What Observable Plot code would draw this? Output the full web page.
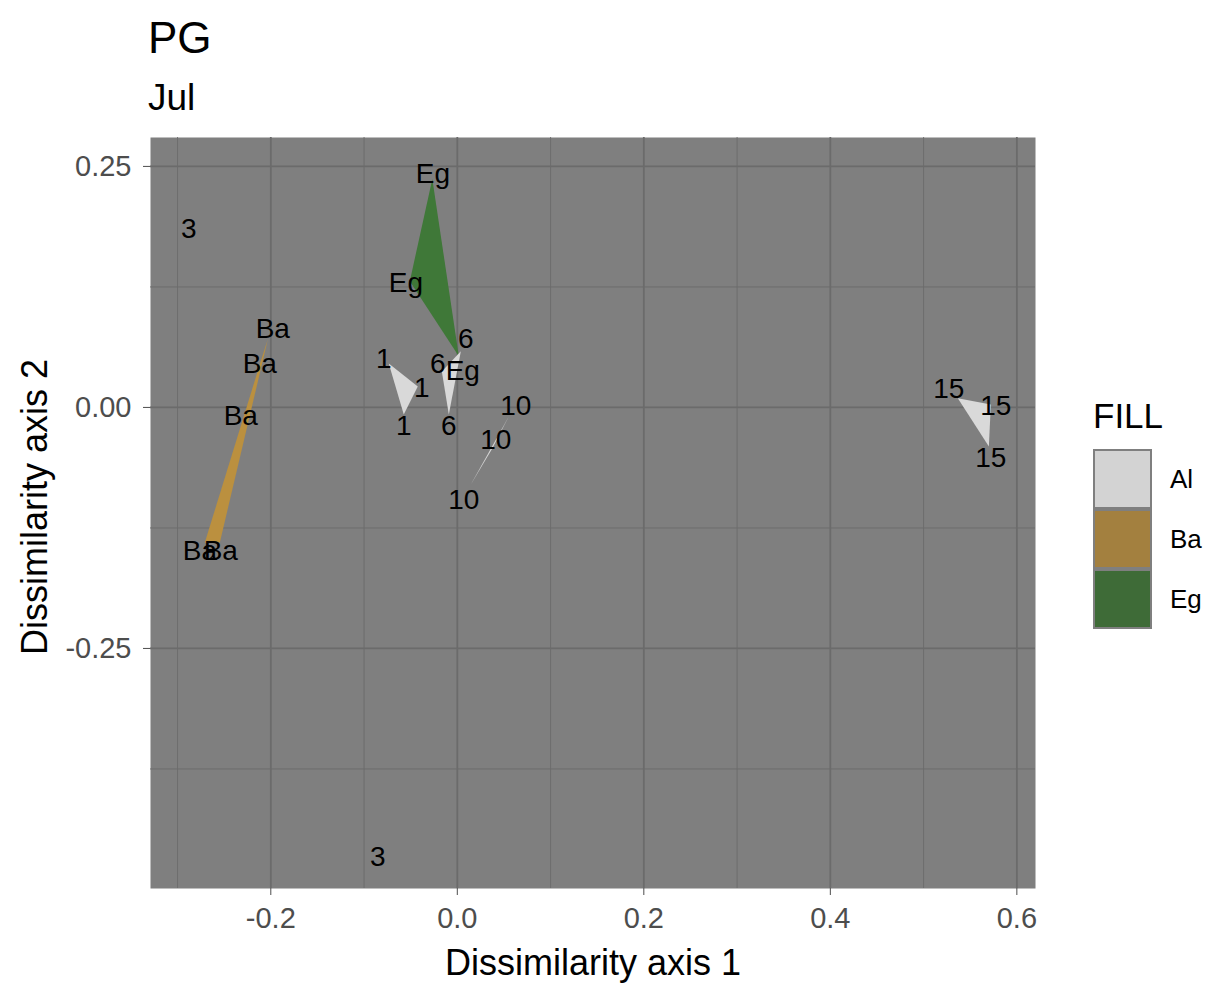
<!DOCTYPE html>
<html>
<head>
<meta charset="utf-8">
<script src="https://cdn.jsdelivr.net/npm/d3@7"></script>
<script src="https://cdn.jsdelivr.net/npm/@observablehq/plot@0.6"></script>
<style>
  body { margin: 0; background: #ffffff; font-family: "Liberation Sans", Arial, sans-serif; }
  #wrap { position: relative; width: 1217px; height: 993px; overflow: hidden; background: #ffffff; }
  #title { position: absolute; left: 148px; top: 16px; font-size: 44px; line-height: 1; color: #000; }
  #subtitle { position: absolute; left: 148px; top: 79px; font-size: 37px; line-height: 1; color: #000; }
  #chart { position: absolute; left: 0; top: 120px; }
  #legend { position: absolute; left: 1093px; top: 398px; }
  #legend .ltitle { font-size: 35px; line-height: 1; color: #000; margin-bottom: 16px; }
  #legend .row { display: flex; align-items: center; height: 60px; }
  #legend .key { width: 59px; height: 60px; background: #7f7f7f; box-sizing: border-box; padding: 2px 2px; }
  #legend .key div { width: 100%; height: 100%; }
  #legend .lab { font-size: 26px; margin-left: 18px; color: #000; }
</style>
</head>
<body>
<div id="wrap">
  <div id="title">PG</div>
  <div id="subtitle">Jul</div>
  <div id="chart"></div>
  <div id="legend"></div>
</div>
<script>
// Ordination scores per sample: group label, site (fill), and the two axes
const sampleGroup = ["Ba","Ba","Ba","Ba","Ba",
                     "Eg","Eg","Eg",
                     "6","6","6",
                     "1","1","1",
                     "10","10","10",
                     "15","15","15",
                     "3","3"];
const sampleSite  = ["Ba","Ba","Ba","Ba","Ba",
                     "Eg","Eg","Eg",
                     "Al","Al","Al",
                     "Al","Al","Al",
                     "Al","Al","Al",
                     "Al","Al","Al",
                     "Al","Al"];
const axis1 = [-0.2032, -0.2118, -0.2290, -0.2708, -0.2547,
               -0.0268, -0.0509, 0.0016,
               -0.0166, 0.0038, -0.0091,
               -0.0735, -0.0424, -0.0574,
               0.0552, 0.0375, 0.0145,
               0.5367, 0.5721, 0.5700,
               -0.2879, -0.0853];
const axis2 = [0.0707, 0.0447, -0.0094, -0.1403, -0.1403,
               0.2370, 0.1310, 0.0530,
               0.0374, 0.0582, -0.0073,
               0.0457, 0.0218, -0.0073,
               -0.0094, -0.0426, -0.0800,
               0.0094, 0.0031, -0.0405,
               0.1850, -0.4667];
// Jittered text positions of the sample labels
const labelAxis1 = [-0.1979, -0.2118, -0.2322, -0.2761, -0.2536,
                    -0.0262, -0.0552, 0.0059,
                    -0.0209, 0.0091, -0.0091,
                    -0.0788, -0.0381, -0.0574,
                    0.0627, 0.0413, 0.0070,
                    0.5270, 0.5775, 0.5721,
                    -0.2879, -0.0853];
const labelAxis2 = [0.0811, 0.0447, -0.0094, -0.1486, -0.1486,
                    0.2422, 0.1289, 0.0374,
                    0.0447, 0.0707, -0.0198,
                    0.0499, 0.0198, -0.0198,
                    0.0010, -0.0333, -0.0956,
                    0.0187, 0.0010, -0.0530,
                    0.1850, -0.4667];

// Fill categories
const fillLevels = ["Al", "Ba", "Eg"];
const hullColors = ["#d9d9d9", "#bb903f", "#3f7838"];
const keyColors  = ["#d3d3d3", "#a3803f", "#3e6b37"];

// Axis ticks
const xTicks = [-0.2, 0.0, 0.2, 0.4, 0.6];
const xMinor = [-0.3, -0.1, 0.1, 0.3, 0.5];
const yTicks = [-0.25, 0.0, 0.25];
const yMinor = [-0.375, -0.125, 0.125];

const samples = sampleGroup.map((g, i) => ({
  group: g, site: sampleSite[i],
  x: axis1[i], y: axis2[i],
  lx: labelAxis1[i], ly: labelAxis2[i]
}));

// Convex hull for every group with at least three samples
const hullMarks = [];
for (const g of Array.from(new Set(sampleGroup))) {
  const pts = samples.filter(s => s.group === g);
  if (pts.length < 3) continue;
  const hull = d3.polygonHull(pts.map(p => [p.x, p.y]));
  if (!hull) continue;
  const rows = hull.map(([x, y]) => ({x, y}));
  const color = hullColors[fillLevels.indexOf(pts[0].site)];
  hullMarks.push(Plot.line(rows, {x: "x", y: "y", curve: "linear-closed", fill: color, stroke: "none"}));
}

const chart = Plot.plot({
  width: 1217,
  height: 873,
  marginTop: 17,
  marginBottom: 105,
  marginLeft: 150,
  marginRight: 182,
  style: {fontFamily: "Liberation Sans, Arial, sans-serif", background: "transparent", overflow: "visible"},
  x: {domain: [-0.329, 0.620], label: null},
  y: {domain: [-0.499, 0.280], label: null},
  marks: [
    Plot.frame({fill: "#7f7f7f", stroke: "none"}),
    Plot.gridX(xMinor, {stroke: "#6b6b6b", strokeOpacity: 1, strokeWidth: 0.9}),
    Plot.gridY(yMinor, {stroke: "#6b6b6b", strokeOpacity: 1, strokeWidth: 0.9}),
    Plot.gridX(xTicks, {stroke: "#6b6b6b", strokeOpacity: 1, strokeWidth: 1.8}),
    Plot.gridY(yTicks, {stroke: "#6b6b6b", strokeOpacity: 1, strokeWidth: 1.8}),
    ...hullMarks,
    Plot.text(samples, {x: "lx", y: "ly", text: "group", fontSize: 28, fill: "#000"}),
    Plot.axisX({ticks: xTicks, tickFormat: d => d.toFixed(1), tickSize: 7, tickPadding: 12,
                fontSize: 29, color: "#4d4d4d", label: null}),
    Plot.axisY({ticks: yTicks, tickFormat: d => d.toFixed(2), tickSize: 7, tickPadding: 12,
                fontSize: 29, color: "#4d4d4d", label: null}),
    Plot.text(["Dissimilarity axis 1"], {frameAnchor: "bottom", text: d => d, dy: 75,
                lineAnchor: "middle", textAnchor: "middle", fontSize: 36, fill: "#000"}),
    Plot.text(["Dissimilarity axis 2"], {frameAnchor: "left", text: d => d, dx: -115, dy: -6, rotate: -90,
                lineAnchor: "middle", textAnchor: "middle", fontSize: 36, fill: "#000"})
  ]
});
document.getElementById("chart").appendChild(chart);

// Fill legend
const legend = document.getElementById("legend");
const lt = document.createElement("div");
lt.className = "ltitle";
lt.textContent = "FILL";
legend.appendChild(lt);
fillLevels.forEach((lvl, i) => {
  const row = document.createElement("div");
  row.className = "row";
  const key = document.createElement("div");
  key.className = "key";
  const sw = document.createElement("div");
  sw.style.background = keyColors[i];
  key.appendChild(sw);
  const lab = document.createElement("div");
  lab.className = "lab";
  lab.textContent = lvl;
  row.appendChild(key);
  row.appendChild(lab);
  legend.appendChild(row);
});
</script>
</body>
</html>
